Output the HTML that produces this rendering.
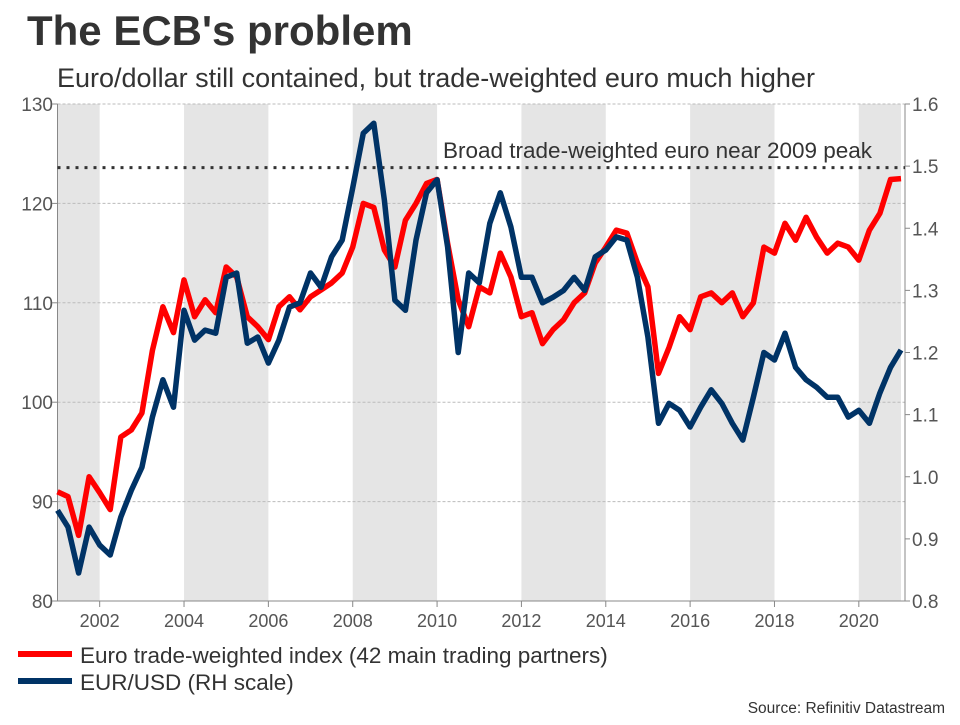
<!DOCTYPE html>
<html><head><meta charset="utf-8"><style>
body{margin:0;background:#fff;width:960px;height:720px;overflow:hidden;font-family:"Liberation Sans",sans-serif;}
svg text{font-family:"Liberation Sans",sans-serif;}
</style></head><body>
<svg id="c" width="960" height="720">
<text x="27" y="45" font-size="42" font-weight="bold" fill="#333">The ECB's problem</text>
<text x="57" y="87" font-size="27" fill="#333">Euro/dollar still contained, but trade-weighted euro much higher</text>
<g id="bands"></g><g id="grid"></g><g id="axes"></g><g id="lines"></g>
<text x="443" y="158" font-size="22.5" fill="#333">Broad trade-weighted euro near 2009 peak</text>
<line x1="18" y1="654" x2="72" y2="654" stroke="#ff0000" stroke-width="6"/>
<text x="80" y="663" font-size="22.5" fill="#333">Euro trade-weighted index (42 main trading partners)</text>
<line x1="18" y1="681" x2="72" y2="681" stroke="#003366" stroke-width="6"/>
<text x="80" y="690" font-size="22.5" fill="#333">EUR/USD (RH scale)</text>
<text x="945" y="713" font-size="15.5" fill="#333" text-anchor="end">Source: Refinitiv Datastream</text>
</svg>
<script>
const startYear = 2001;
const stepYears = 0.25;
const twiValues = [91,90.5,86.6,92.5,90.9,89.2,96.5,97.2,98.9,105.2,109.6,107,112.3,108.6,110.3,109,113.6,112.6,108.6,107.6,106.3,109.6,110.6,109.3,110.6,111.3,112,113,115.6,120,119.6,115.3,113.6,118.3,120,122,122.4,116,110.3,107.6,111.6,111,115,112.6,108.6,109,105.9,107.3,108.3,110,111,114,115.6,117.3,117,114,111.6,102.9,105.5,108.6,107.3,110.6,111,110,111,108.6,110,115.6,115,118,116.3,118.6,116.6,115,116,115.6,114.3,117.3,119,122.4,122.5];
const usdValues = [0.946,0.919,0.845,0.919,0.89,0.874,0.935,0.978,1.015,1.096,1.156,1.112,1.268,1.22,1.236,1.231,1.321,1.328,1.215,1.225,1.183,1.22,1.273,1.28,1.328,1.305,1.354,1.381,1.465,1.553,1.569,1.445,1.284,1.268,1.381,1.457,1.478,1.37,1.2,1.328,1.312,1.408,1.457,1.402,1.321,1.321,1.28,1.289,1.3,1.321,1.3,1.354,1.365,1.386,1.381,1.321,1.225,1.086,1.118,1.107,1.08,1.112,1.14,1.118,1.086,1.059,1.128,1.2,1.188,1.231,1.176,1.156,1.144,1.128,1.128,1.096,1.107,1.086,1.135,1.176,1.204];
const leftTicks = [80,90,100,110,120,130];
const rightTicks = [0.8,0.9,1.0,1.1,1.2,1.3,1.4,1.5,1.6];
const xTicks = [2002,2004,2006,2008,2010,2012,2014,2016,2018,2020];
const shadedBands = [[2001,2002],[2004,2006],[2008,2010],[2012,2014],[2016,2018],[2020,2021]];
const peakLevel = 123.6;

const X0=57.5,X1=901,Y0=601,Y1=104;
const xs=y=>X0+(y-2001)/20*(X1-X0);
const yl=v=>Y0-(v-80)/50*(Y0-Y1);
const yr=v=>Y0-(v-0.8)/0.8*(Y0-Y1);
const NS='http://www.w3.org/2000/svg';
function mk(parent,tag,attrs){const e=document.createElementNS(NS,tag);for(const k in attrs)e.setAttribute(k,attrs[k]);document.getElementById(parent).appendChild(e);return e;}
shadedBands.forEach(b=>{
  const r=mk('bands','rect',{x:xs(b[0]),y:Y1,width:xs(b[1])-xs(b[0]),height:Y0-Y1,fill:'#e5e5e5'});
  
  
});
leftTicks.forEach(v=>{
  if(v>80){const g=mk('grid','line',{x1:X0,x2:905,y1:yl(v),y2:yl(v),stroke:'#bbb','stroke-dasharray':'3,2','stroke-width':1});
  
  }
  const t=mk('axes','text',{x:53,y:yl(v)+7,'font-size':19,fill:'#555','text-anchor':'end'});t.textContent=v;
  
  
  mk('axes','line',{x1:52,x2:X0,y1:yl(v),y2:yl(v),stroke:'#888'});
});
rightTicks.forEach(v=>{
  const t=mk('axes','text',{x:912,y:yr(v)+7,'font-size':19,fill:'#555'});t.textContent=v.toFixed(1);
  
  
  mk('axes','line',{x1:905,x2:910,y1:yr(v),y2:yr(v),stroke:'#888'});
});
xTicks.forEach(v=>{
  mk('axes','line',{x1:xs(v),x2:xs(v),y1:Y0,y2:Y0+6,stroke:'#888'});
  const t=mk('axes','text',{x:xs(v),y:Y0+26,'font-size':18,fill:'#555','text-anchor':'middle'});t.textContent=v;
  
  
});
mk('axes','line',{x1:X0,x2:X0,y1:Y1,y2:Y0,stroke:'#888'});
mk('axes','line',{x1:905,x2:905,y1:Y1,y2:Y0,stroke:'#888'});
mk('axes','line',{x1:X0,x2:905,y1:Y0,y2:Y0,stroke:'#888'});
const pk=mk('lines','line',{x1:X0,x2:905,y1:yl(peakLevel),y2:yl(peakLevel),stroke:'#333','stroke-width':3,'stroke-dasharray':'3,6'});


const pl=(vals,f)=>vals.map((v,i)=>xs(startYear+i*stepYears).toFixed(1)+','+f(v).toFixed(1)).join(' ');
const r1=mk('lines','polyline',{points:pl(twiValues,yl),fill:'none',stroke:'#ff0000','stroke-width':5.5,'stroke-linejoin':'round'});


const b1=mk('lines','polyline',{points:pl(usdValues,yr),fill:'none',stroke:'#003366','stroke-width':5.5,'stroke-linejoin':'round'});


</script>
</body></html>
